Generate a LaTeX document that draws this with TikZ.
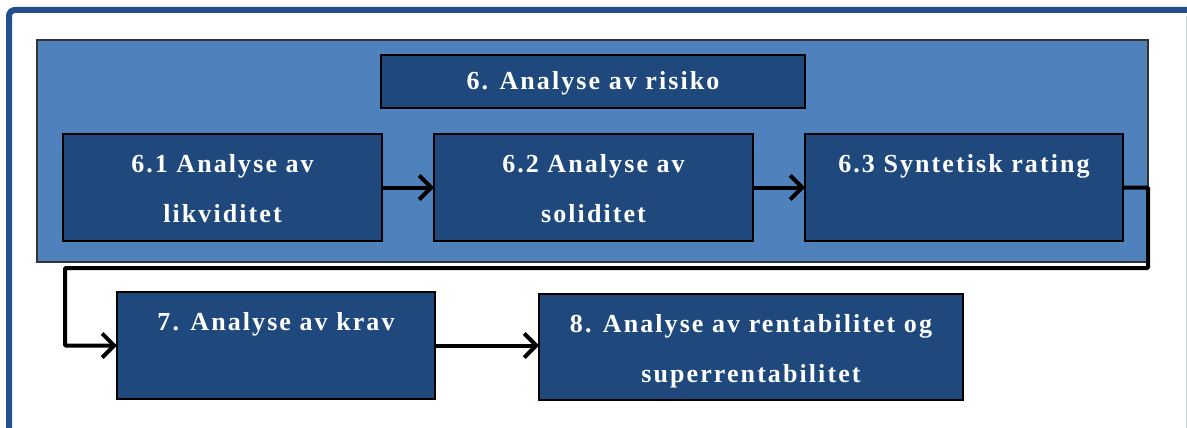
\documentclass[tikz,border=0pt]{standalone}
\usepackage{fontspec}
\setmainfont{Liberation Serif}
\newfontfamily\boxfont[LetterSpace=8]{Liberation Serif}
\usetikzlibrary{arrows.meta,calc}

\definecolor{framecol}{HTML}{23508A}
\definecolor{panelcol}{HTML}{4F81BD}
\definecolor{boxcol}{HTML}{1F497D}
\definecolor{edgecol}{HTML}{C9D5E6}

% box text: fixed-size top-aligned paragraph, first baseline #1 below the top
\newcommand{\boxlabel}[4][38]{%
  \parbox[c][#3pt][t]{#2pt}{\centering\boxfont\fontsize{26}{50}\selectfont\bfseries
    \rule{0pt}{#1pt}#4}}

\tikzset{
  stepbox/.style={draw=black, line width=1.3pt, fill=boxcol, text=white,
    inner sep=0pt, outer sep=0pt, anchor=north west},
  panel/.style={draw=black!80, line width=1.6pt, fill=panelcol,
    inner sep=0pt, outer sep=0pt, anchor=north west},
  conn/.style={draw=black, line width=4pt,
    -{Straight Barb[length=12pt,width=24pt,line width=4pt]}}
}

\begin{document}
\begin{tikzpicture}[x=1pt,y=-1pt]
  \useasboundingbox (0,0) rectangle (1187,428);
  \clip (0,0) rectangle (1187,428);
  \fill[white] (0,0) rectangle (1187,428);

  % page frame
  \draw[framecol, line width=6pt, rounded corners=6pt]
    (9,440) -- (9,10) -- (1200,10);
  \draw[edgecol, line width=1pt] (1186,16) -- (1186,428);

  % risk panel
  \node[panel, minimum width=1111pt, minimum height=222pt] (panel) at (37,40) {};

  \node[stepbox] (risk) at (381,55) {\boxlabel[35]{424}{53}{6. Analyse av risiko}};
  \node[stepbox] (b61) at (63,134) {\boxlabel{319}{107}{6.1 Analyse av\\likviditet}};
  \node[stepbox] (b62) at (434,134) {\boxlabel{319}{107}{6.2 Analyse av\\soliditet}};
  \node[stepbox] (b63) at (805,134) {\boxlabel{318}{107}{6.3 Syntetisk rating}};

  \node[stepbox] (b7) at (117,292) {\boxlabel{318}{107}{7. Analyse av krav}};
  \node[stepbox] (b8) at (539,294) {\boxlabel{424}{106}{8. Analyse av rentabilitet og\\superrentabilitet}};

  % connectors
  \coordinate (c1) at (1148,268);
  \coordinate (c2) at (65,268);
  \draw[conn] (b61.east) -- (b62.west);
  \draw[conn] (b62.east) -- (b63.west);
  \draw[conn, rounded corners=1pt] (b63.east) -| (c1) -- (c2) |- (b7.west);
  \draw[conn] (b7.east) -- (b7.east -| b8.west);
\end{tikzpicture}
\end{document}
